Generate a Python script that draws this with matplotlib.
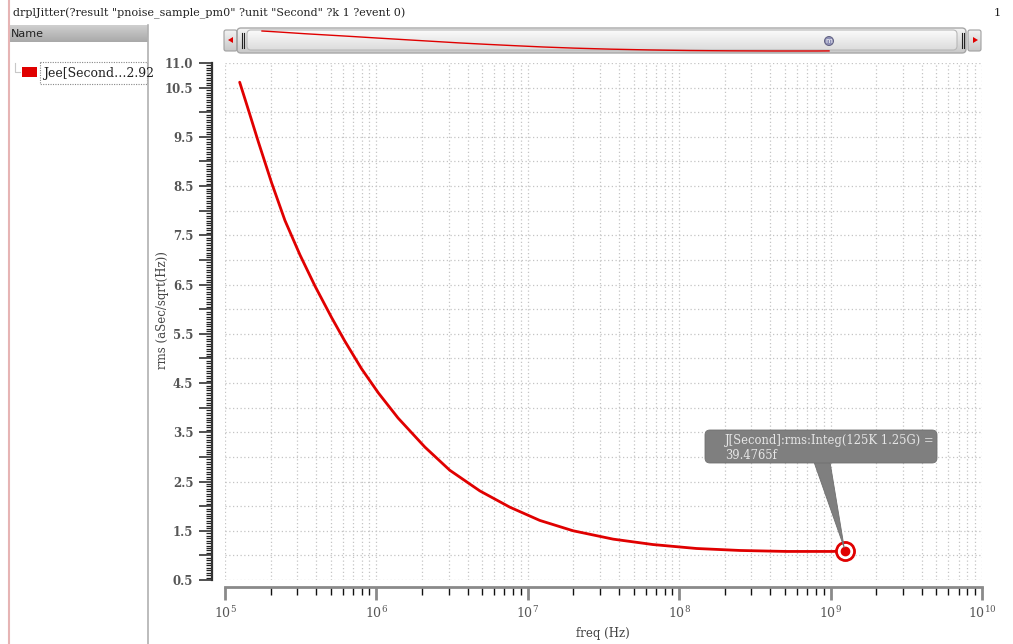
import numpy as np
import matplotlib
matplotlib.use("Agg")
import matplotlib.pyplot as plt
from matplotlib.patches import FancyBboxPatch, Rectangle, Polygon, Circle
from matplotlib.ticker import FixedLocator, FixedFormatter, NullFormatter, LogLocator

# ---------------- data ----------------
freq_hz = [1.25e5, 1.41e5, 1.66e5, 2.03e5, 2.49e5, 3.13e5, 3.93e5, 5.06e5, 6.19e5, 7.98e5,
           1.03e6, 1.39e6, 2.09e6, 3.05e6, 4.82e6, 7.60e6, 1.20e7, 1.99e7, 3.66e7,
           6.71e7, 1.30e8, 2.51e8, 5.11e8, 1.03e9, 1.25e9]
rms_asec = [10.61, 10.10, 9.40, 8.57, 7.80, 7.10, 6.47, 5.83, 5.35, 4.79,
            4.30, 3.79, 3.20, 2.73, 2.31, 1.98, 1.71, 1.50, 1.33,
            1.22, 1.14, 1.10, 1.08, 1.08, 1.09]
ytick_values = [11.0, 10.5, 10.0, 9.5, 9.0, 8.5, 8.0, 7.5, 7.0, 6.5, 6.0, 5.5, 5.0,
                4.5, 4.0, 3.5, 3.0, 2.5, 2.0, 1.5, 1.0, 0.5]
ytick_labels = ["11.0", "10.5", "", "9.5", "", "8.5", "", "7.5", "", "6.5", "", "5.5", "",
                "4.5", "", "3.5", "", "2.5", "", "1.5", "", "0.5"]
ytick_minor_step = 0.05
xtick_decades = [5, 6, 7, 8, 9, 10]
title_text = 'drplJitter(?result "pnoise_sample_pm0" ?unit "Second" ?k 1 ?event 0)'
legend_text = "Jee[Second\u20262.92"
callout_lines = ["J[Second]:rms:Integ(125K 1.25G) =", "39.4765f"]
xlabel_text = "freq (Hz)"
ylabel_text = "rms (aSec/sqrt(Hz))"

plt.rcParams['font.family'] = ['DejaVu Serif']
plt.rcParams['mathtext.fontset'] = 'dejavuserif'

W, H = 1013, 644
fig = plt.figure(figsize=(W / 100, H / 100), dpi=100)
fig.patch.set_facecolor('white')

bg = fig.add_axes([0, 0, 1, 1], zorder=0)
bg.set_xlim(0, W); bg.set_ylim(H, 0); bg.axis('off')

ax = fig.add_axes([225 / W, 1 - 580 / H, (982 - 225) / W, (580 - 63) / H], zorder=1)
ax.patch.set_alpha(0)

fg = fig.add_axes([0, 0, 1, 1], zorder=5)
fg.set_xlim(0, W); fg.set_ylim(H, 0); fg.axis('off'); fg.patch.set_alpha(0)

# ---------------- main plot ----------------
ax.set_xscale('log')
ax.set_xlim(10.0 ** xtick_decades[0], 10.0 ** xtick_decades[-1])
ymin, ymax = min(ytick_values), max(ytick_values)
ax.set_ylim(ymin, ymax)
ax.plot(freq_hz, rms_asec, color='#e00000', lw=2.0, solid_joinstyle='round',
        solid_capstyle='round', zorder=3)

ax.xaxis.set_major_locator(FixedLocator([10.0 ** d for d in xtick_decades]))
ax.xaxis.set_major_formatter(FixedFormatter([r'$\mathregular{10^{%d}}$' % d for d in xtick_decades]))
ax.xaxis.set_minor_locator(LogLocator(base=10, subs=np.arange(2, 10), numticks=100))
ax.xaxis.set_minor_formatter(NullFormatter())

ax.yaxis.set_major_locator(FixedLocator(ytick_values))
ax.yaxis.set_major_formatter(FixedFormatter(ytick_labels))
n_minor = int(round((ymax - ymin) / ytick_minor_step))
minor_locs = [ymin + i * ytick_minor_step for i in range(n_minor + 1)]
ax.yaxis.set_minor_locator(FixedLocator(minor_locs))

gstyle = dict(ls=(0, (1, 2)), color='#c4c4c4', lw=0.9)
ax.grid(True, which='both', axis='x', **gstyle)
ax.grid(True, which='major', axis='y', **gstyle)
ax.set_axisbelow(True)

for s in ('top', 'right'):
    ax.spines[s].set_visible(False)
ax.spines['bottom'].set_position(('outward', 7 * 0.72))
ax.spines['bottom'].set_color('#8a8a8a')
ax.spines['bottom'].set_linewidth(2)
ax.spines['left'].set_position(('outward', 13 * 0.72))
ax.spines['left'].set_color('#333333')
ax.spines['left'].set_linewidth(1.6)

ax.tick_params(axis='x', which='major', length=9, width=2, color='#8a8a8a',
               labelcolor='#555555', labelsize=9, pad=4)
ax.tick_params(axis='x', which='minor', length=6, width=1, color='#111111')
ax.tick_params(axis='y', which='major', length=9.5, width=1.2, color='#333333',
               labelcolor='#555555', labelsize=8.5, pad=4)
ax.tick_params(axis='y', which='minor', length=4.5, width=0.9, color='#222222')
for lab in ax.get_yticklabels():
    lab.set_fontweight('bold')

fig.text(603 / W, 1 - 633 / H, xlabel_text, ha='center', va='center',
         fontsize=8.5, color='#444444')
fig.text(162 / W, 1 - 310 / H, ylabel_text, ha='center', va='center',
         rotation=90, fontsize=8.5, color='#444444')

# ---------------- title and left panel ----------------
bg.text(13, 13, title_text, ha='left', va='center', fontsize=8.0, color='#222222')
bg.text(997, 13, "1", ha='center', va='center', fontsize=8.2, color='#222222')

bg.plot([9, 9], [0, H], color='#e6b4b4', lw=1.5)
grad = np.linspace(0, 1, 50).reshape(-1, 1)
bg.imshow(grad, extent=(10, 148, 42, 25), cmap=matplotlib.colors.LinearSegmentedColormap.from_list(
    'hdr', ['#cfcfcf', '#a9a9a9']), aspect='auto', zorder=1)
bg.text(11, 34, "Name", ha='left', va='center', fontsize=8, color='#222222',
        family='DejaVu Sans', zorder=2)
bg.plot([147.5, 147.5], [25, H], color='#b0b0b0', lw=1.2)
bg.plot([15, 15, 20], [63, 72, 72], color='#c8c8c8', lw=0.8)
bg.add_patch(Rectangle((22, 67), 15, 10, facecolor='#e00000', edgecolor='none'))
bg.add_patch(Rectangle((40, 62), 107, 22, facecolor='white', edgecolor='#888888',
                       lw=0.8, ls=(0, (1, 1.2))))
bg.text(43, 73.5, legend_text, ha='left', va='center', fontsize=9, color='#222222')

# ---------------- scrollbar ----------------
def gradient_patch(axh, patch, c1, c2, z):
    axh.add_patch(patch)
    x0, y0, w, h = patch.get_bbox().bounds
    im = axh.imshow(np.linspace(0, 1, 60).reshape(-1, 1),
                    extent=(x0, x0 + w, y0 + h, y0),
                    cmap=matplotlib.colors.LinearSegmentedColormap.from_list('g', [c1, c2]),
                    aspect='auto', zorder=z)
    im.set_clip_path(patch)

outer = FancyBboxPatch((237, 28), 729, 25, boxstyle='round,pad=0,rounding_size=4',
                       facecolor='none', edgecolor='#a8a8a8', lw=1.0, zorder=3)
gradient_patch(bg, outer, '#f4f4f4', '#c9c9c9', 2)
inner = FancyBboxPatch((247, 30), 710, 20, boxstyle='round,pad=0,rounding_size=4',
                       facecolor='none', edgecolor='#b8b8b8', lw=0.8, zorder=5)
gradient_patch(bg, inner, '#fbfbfb', '#dcdcdc', 4)
for bx in (224, 968):
    b = FancyBboxPatch((bx, 30), 13, 21, boxstyle='round,pad=0,rounding_size=2',
                       facecolor='none', edgecolor='#a0a0a0', lw=0.8, zorder=3)
    gradient_patch(bg, b, '#f2f2f2', '#c8c8c8', 2)
bg.add_patch(Polygon([[228, 40], [233, 37], [233, 43]], closed=True, facecolor='#e00000',
                     edgecolor='none', zorder=6))
bg.add_patch(Polygon([[978, 40], [973, 37], [973, 43]], closed=True, facecolor='#e00000',
                     edgecolor='none', zorder=6))
for gx in (241.5, 243.5, 961.5, 963.5):
    bg.plot([gx, gx], [33, 48], color='#222222', lw=0.8, zorder=6)
lf = np.log10(freq_hz)
lv = np.log10(rms_asec)
tx = 262 + (lf - lf[0]) / (lf[-1] - lf[0]) * (829 - 262)
ty = 31 + (lv[0] - lv) / (lv[0] - lv.min()) * (51 - 31)
bg.plot(tx, ty, color='#e00000', lw=1.0, zorder=6)
bg.add_patch(Circle((829, 41), 4.5, facecolor='#8d8fb5', edgecolor='#555577', lw=0.6, zorder=7))
bg.text(829, 41.3, "m", ha='center', va='center', fontsize=5, color='white',
        family='DejaVu Sans', zorder=8)

# ---------------- callout and marker ----------------
fig.canvas.draw()
tip_disp = ax.transData.transform((freq_hz[-1], rms_asec[-1]))
tip = fg.transData.inverted().transform(tip_disp)

fg.add_patch(Polygon([[814, 462], [830, 462], [tip[0] - 1, tip[1] - 3]], closed=True,
                     facecolor='#7f7f7f', edgecolor='#6f6f6f', lw=0.6, zorder=2))
fg.add_patch(FancyBboxPatch((705, 430), 232, 33, boxstyle='round,pad=0,rounding_size=5',
                            facecolor='#7f7f7f', edgecolor='#707070', lw=0.6, zorder=3))
fg.text(725, 440, callout_lines[0], ha='left', va='center', fontsize=8.3, color='#e6e6e6', zorder=4)
fg.text(725, 455, callout_lines[1], ha='left', va='center', fontsize=8.3, color='#e6e6e6', zorder=4)

ax.plot([freq_hz[-1]], [rms_asec[-1]], marker='o', ms=14, mfc='#e00000', mec='#e00000',
        clip_on=False, zorder=6)
ax.plot([freq_hz[-1]], [rms_asec[-1]], marker='o', ms=10, mfc='white', mec='white',
        clip_on=False, zorder=7)
ax.plot([freq_hz[-1]], [rms_asec[-1]], marker='o', ms=6, mfc='#e00000', mec='#e00000',
        clip_on=False, zorder=8)

fig.savefig('out.png', dpi=100, facecolor='white')
